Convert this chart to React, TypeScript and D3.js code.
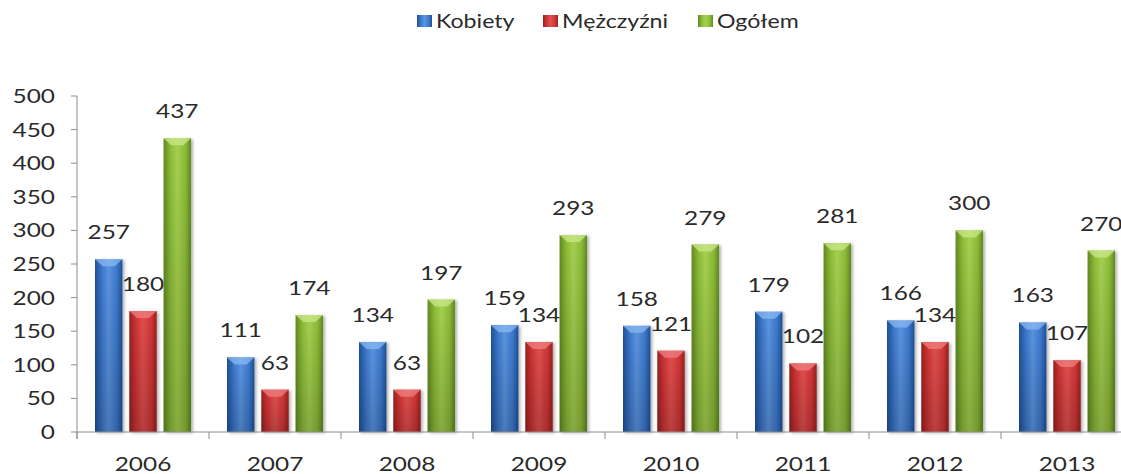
import React from "react";
import * as d3 from "d3";

const years = ["2006", "2007", "2008", "2009", "2010", "2011", "2012", "2013"];
const seriesNames = ["Kobiety", "Mężczyźni", "Ogółem"];
const kobiety = [257, 111, 134, 159, 158, 179, 166, 163];
const mezczyzni = [180, 63, 63, 134, 121, 102, 134, 107];
const ogolem = [437, 174, 197, 293, 279, 281, 300, 270];
const yTicks = [0, 50, 100, 150, 200, 250, 300, 350, 400, 450, 500];

const palette = [
  { dark: "#1f4f96", mid: "#3b78cc", light: "#5c95e0", cap: "#8ab8f0" },
  { dark: "#9c2020", mid: "#cf3535", light: "#e05050", cap: "#f08080" },
  { dark: "#5f8a1e", mid: "#8cbb38", light: "#a6d150", cap: "#cbe88a" },
];

const FONT = "Lato, 'Open Sans', sans-serif";
const SX = 1.22;
const TXT = "#2a2a2a";

export default function App() {
  const W = 1121, H = 474;
  const left = 77, bandW = 132;
  const x0 = d3.scaleBand<string>().domain(years).range([left, left + bandW * years.length]).paddingInner(0).paddingOuter(0);
  const x1 = d3.scaleBand<string>().domain(seriesNames).range([18, 114]).paddingInner(0.2).paddingOuter(0);
  const y = d3.scaleLinear().domain([0, 500]).range([432, 96]);
  const values = [kobiety, mezczyzni, ogolem];

  const legendItems = [
    { sq: 417, tx: 436 },
    { sq: 543, tx: 562 },
    { sq: 698, tx: 717 },
  ];

  return (
    <svg width={W} height={H} style={{ position: "absolute", left: 0, top: 0, background: "#fff" }} fontFamily={FONT}>
      <defs>
        {palette.map((p, i) => (
          <linearGradient key={i} id={`g${i}`} x1="0" x2="1" y1="0" y2="0">
            <stop offset="0" stopColor={p.dark} />
            <stop offset="0.25" stopColor={p.mid} />
            <stop offset="0.5" stopColor={p.light} />
            <stop offset="0.8" stopColor={p.mid} />
            <stop offset="1" stopColor={p.dark} />
          </linearGradient>
        ))}
        <linearGradient id="vshade" x1="0" x2="0" y1="0" y2="1">
          <stop offset="0" stopColor="#000" stopOpacity={0} />
          <stop offset="1" stopColor="#000" stopOpacity={0.18} />
        </linearGradient>
        <filter id="sh" x="-20%" y="-5%" width="150%" height="110%">
          <feDropShadow dx="2" dy="1" stdDeviation="1.5" floodColor="#000" floodOpacity="0.3" />
        </filter>
      </defs>

      {/* legend */}
      {seriesNames.map((s, i) => (
        <g key={s}>
          <rect x={legendItems[i].sq} y={15} width={15} height={12} fill={`url(#g${i})`} />
          <text transform={`translate(${legendItems[i].tx},28) scale(${SX},1)`} fontSize={19} fill={TXT}>{s}</text>
        </g>
      ))}

      {/* y axis */}
      <line x1={left} x2={left} y1={y(500)} y2={y(0) + 7} stroke="#8c8c8c" />
      {yTicks.map((t) => (
        <g key={t}>
          <line x1={left - 6} x2={left} y1={y(t)} y2={y(t)} stroke="#8c8c8c" />
          <text transform={`translate(55,${y(t) + 7}) scale(${SX},1)`} textAnchor="end" fontSize={20} fill={TXT}>{t}</text>
        </g>
      ))}

      {/* bars */}
      {years.map((yr, j) => (
        <g key={yr}>
          {values.map((vals, i) => {
            const bx = (x0(yr) as number) + (x1(seriesNames[i]) as number);
            const bw = x1.bandwidth();
            const top = y(vals[j]);
            const h = y(0) - top;
            const cap = Math.min(7, h);
            return (
              <g key={i}>
                <rect x={bx} y={top} width={bw} height={h} fill={`url(#g${i})`} filter="url(#sh)" />
                <rect x={bx} y={top} width={bw} height={h} fill="url(#vshade)" />
                <polygon points={`${bx},${top} ${bx + bw},${top} ${bx + bw * 0.72},${top + cap} ${bx + bw * 0.28},${top + cap}`} fill={palette[i].cap} opacity={0.75} />
                <text transform={`translate(${bx + bw / 2},${top - 20}) scale(${SX},1)`} textAnchor="middle" fontSize={20} fill={TXT}>{vals[j]}</text>
              </g>
            );
          })}
        </g>
      ))}

      {/* x axis */}
      <line x1={left} x2={W} y1={y(0)} y2={y(0)} stroke="#8c8c8c" />
      {years.map((yr) => (
        <line key={yr} x1={x0(yr) as number} x2={x0(yr) as number} y1={y(0)} y2={y(0) + 7} stroke="#8c8c8c" />
      ))}
      {years.map((yr) => (
        <text key={yr} transform={`translate(${(x0(yr) as number) + bandW / 2},471) scale(${SX},1)`} textAnchor="middle" fontSize={20} fill={TXT}>{yr}</text>
      ))}
    </svg>
  );
}
